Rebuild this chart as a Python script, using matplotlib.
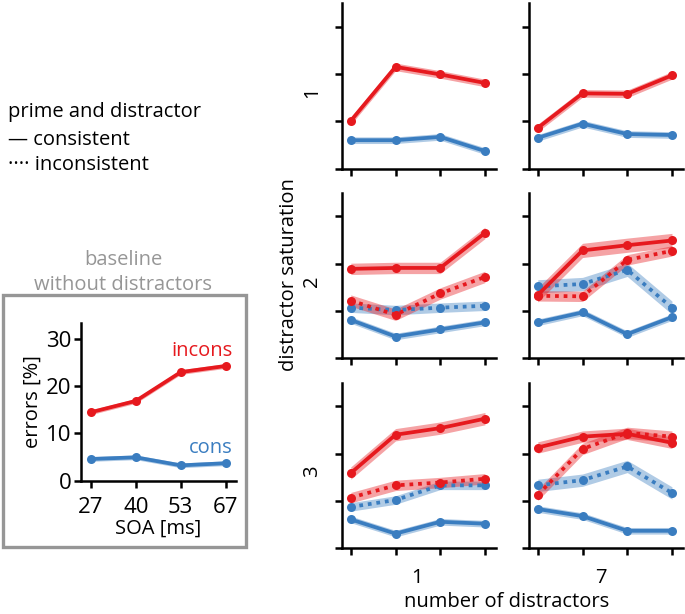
import matplotlib
matplotlib.use('Agg')
import matplotlib.pyplot as plt
from matplotlib.patches import Rectangle

plt.rcParams['font.family'] = ['Open Sans', 'DejaVu Sans']

RED = '#e6191e'
BLUE = '#3a7dc0'
GRAY = '#969696'

W, H = 685, 614

# baseline (no distractors), errors in %
soa = [27, 40, 53, 67]
base_incons = [14.5, 16.9, 23.0, 24.3]
base_cons = [4.6, 4.95, 3.25, 3.7]

# panels: rows = distractor saturation 1..3, cols = number of distractors 1, 7
red_cons = [
    [[10.1, 21.5, 19.9, 18.1], [8.6, 15.9, 15.8, 19.7]],
    [[18.9, 19.1, 19.1, 26.5], [13.4, 22.8, 23.9, 24.9]],
    [[15.9, 24.0, 25.4, 27.4], [21.3, 23.6, 24.2, 22.3]],
]
blue_cons = [
    [[6.0, 6.0, 6.7, 3.7], [6.5, 9.5, 7.3, 7.1]],
    [[8.1, 4.6, 6.1, 7.6], [7.6, 9.7, 5.1, 8.7]],
    [[6.1, 3.1, 5.6, 5.2], [8.3, 6.8, 3.7, 3.7]],
]
red_incons = [
    [None, None],
    [[12.2, 9.2, 13.7, 17.2], [13.2, 13.1, 20.8, 22.7]],
    [[10.7, 13.3, 13.9, 14.7], [11.3, 21.0, 24.4, 23.6]],
]
blue_incons = [
    [None, None],
    [[10.7, 10.2, 10.7, 11.1], [15.2, 15.7, 18.7, 10.7]],
    [[8.75, 10.2, 13.3, 13.3], [13.3, 14.4, 17.3, 11.7]],
]
# half width of the shaded bands
red_cons_err = [[0.8, 0.8], [1.2, 1.5], [1.3, 1.2]]
blue_cons_err = [[0.7, 0.7], [0.7, 0.7], [0.7, 0.7]]
red_incons_err = [[None, None], [1.2, 1.1], [1.1, 1.2]]
blue_incons_err = [[None, None], [1.0, 1.4], [0.9, 1.3]]
base_err = 0.5

row_labels = ['1', '2', '3']
col_labels = ['1', '7']


def px(x, y):
    return x / W, 1 - y / H


def style_axes(ax, lw=1.8, ticklen=5):
    for s in ['top', 'right']:
        ax.spines[s].set_visible(False)
    for s in ['left', 'bottom']:
        ax.spines[s].set_linewidth(lw)
    ax.tick_params(direction='out', length=ticklen, width=lw)


def draw_series(ax, y, err, color, dotted=False):
    x = list(range(len(y)))
    lo = [v - err for v in y]
    hi = [v + err for v in y]
    ax.fill_between(x, lo, hi, color=color, alpha=0.4, lw=0)
    ls = (0, (1, 1.3)) if dotted else '-'
    ax.plot(x, y, color=color, lw=2.7, ls=ls, marker='o', ms=6.5, mew=0)


fig = plt.figure(figsize=(W / 100, H / 100), dpi=100)

# grid of panels
col_left = [342.3, 529.3]
row_top = [3.0, 192.7, 382.7]
pw, ph = 153.4, 165.6
for r in range(3):
    for c in range(2):
        x0, y1 = px(col_left[c], row_top[r] + ph)
        ax = fig.add_axes([x0, y1, pw / W, ph / H])
        style_axes(ax)
        if red_incons[r][c] is not None:
            draw_series(ax, blue_incons[r][c], blue_incons_err[r][c], BLUE, dotted=True)
            draw_series(ax, red_incons[r][c], red_incons_err[r][c], RED, dotted=True)
        draw_series(ax, blue_cons[r][c], blue_cons_err[r][c], BLUE)
        draw_series(ax, red_cons[r][c], red_cons_err[r][c], RED)
        ax.set_xlim(-0.19, 3.24)
        ax.set_ylim(0, 35)
        ax.set_xticks(range(4))
        ax.set_yticks([0, 10, 20, 30])
        ax.set_xticklabels([])
        ax.set_yticklabels([])

fs = 14.5
for r in range(3):
    fig.text(*px(312, row_top[r] + ph / 2 + 6), row_labels[r], rotation=90,
             ha='center', va='center', fontsize=fs)
fig.text(*px(417, 578), col_labels[0], ha='center', va='center', fontsize=fs)
fig.text(*px(601, 578), col_labels[1], ha='center', va='center', fontsize=fs)
fig.text(*px(507, 602), 'number of distractors', ha='center', va='center', fontsize=fs)
fig.text(*px(289, 275), 'distractor saturation', rotation=90,
         ha='center', va='center', fontsize=fs)

# legend text
fig.text(*px(8, 112), 'prime and distractor', ha='left', va='center', fontsize=fs)
fig.text(*px(8, 140), '\u2014 consistent', ha='left', va='center', fontsize=fs)
fig.text(*px(8, 165), '\u00b7\u00b7\u00b7\u00b7 inconsistent', ha='left', va='center', fontsize=fs)

# baseline inset
fig.text(*px(123, 260), 'baseline', ha='center', va='center', fontsize=fs, color=GRAY)
fig.text(*px(123, 285), 'without distractors', ha='center', va='center', fontsize=fs, color=GRAY)
bx0, by1 = px(3, 547)
fig.patches.append(Rectangle((bx0, by1), 243 / W, 252 / H, transform=fig.transFigure,
                             fill=False, edgecolor=GRAY, lw=2.4))

x0, y1 = px(81, 480.7)
ax = fig.add_axes([x0, y1, 155 / W, 157.7 / H])
style_axes(ax)
draw_series(ax, base_cons, base_err, BLUE)
draw_series(ax, base_incons, base_err, RED)
ax.set_xlim(-0.22, 3.23)
ax.set_ylim(0, 33.4)
ax.set_xticks(range(4))
ax.set_xticklabels([str(s) for s in soa], fontsize=16)
ax.set_yticks([0, 10, 20, 30])
ax.set_yticklabels(['0', '10', '20', '30'], fontsize=16)
ax.tick_params(axis='y', pad=2)
ax.tick_params(axis='x', pad=7)
ax.set_ylabel('errors [%]', fontsize=fs, labelpad=2)
ax.set_xlabel('SOA [ms]', fontsize=fs, labelpad=0)
ax.text(3.15, 27.5, 'incons', color=RED, ha='right', va='center', fontsize=fs)
ax.text(3.15, 6.9, 'cons', color=BLUE, ha='right', va='center', fontsize=fs)

fig.savefig('out.png', dpi=100)
